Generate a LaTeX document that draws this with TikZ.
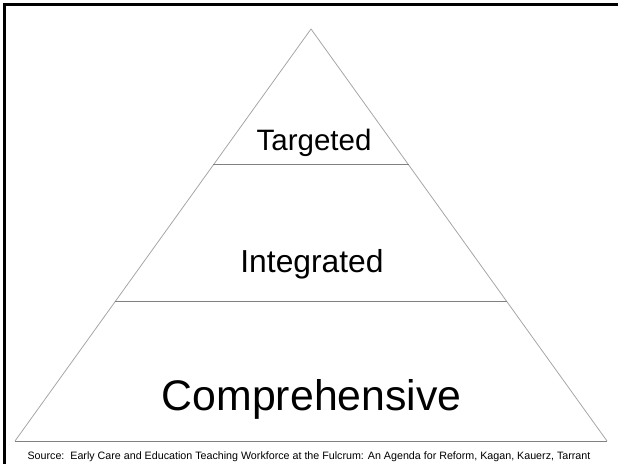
\documentclass[tikz,border=0pt]{standalone}
\usepackage{fontspec}
\setmainfont{Liberation Sans}
\usetikzlibrary{positioning,calc}

\begin{document}
\begin{tikzpicture}[x=1pt,y=-1pt,
    side/.style={draw=black!35,line width=0.8pt},
    tier/.style={draw=black!50,line width=1pt},
    level/.style={anchor=base,inner sep=0pt},
    frame/.style={line width=2.2pt,black}
  ]
    \useasboundingbox (0,0) rectangle (618,464);

    % Frame: top and left edges only
    \coordinate (fl) at (4.5,464);
    \coordinate (fr) at (618,4.5);
    \draw[frame] (fl) |- (fr);

    % Pyramid outline
    \coordinate (apex) at (311,29);
    \coordinate (bl) at (15,441);
    \coordinate (br) at (607,441);
    \draw[side] (bl) -- (apex) -- (br);
    \draw[tier] (bl) -- (br);

    % Tier lines
    \coordinate (t1l) at ($(apex)!0.330!(bl)$);
    \coordinate (t1r) at ($(apex)!0.330!(br)$);
    \coordinate (t2l) at ($(apex)!0.6626!(bl)$);
    \coordinate (t2r) at ($(apex)!0.6626!(br)$);
    \draw[tier] (t1l) -- (t1r);
    \draw[tier] (t2l) -- (t2r);

    % Labels
    \node[level,font=\fontsize{29.5}{34}\selectfont] (targ) at (314,150) {Targeted};
    \node[level,font=\fontsize{31.8}{36}\selectfont] (integ) at (312,272) {Integrated};
    \node[level,font=\fontsize{42.8}{48}\selectfont] (comp) at (311.7,410) {Comprehensive};

    % Source line
    \node[level,font=\fontsize{10.7}{12}\selectfont] (src) at (309,459) {Source:\ \ Early Care and Education Teaching Workforce at the Fulcrum: An Agenda for Reform, Kagan, Kauerz, Tarrant};
\end{tikzpicture}
\end{document}
